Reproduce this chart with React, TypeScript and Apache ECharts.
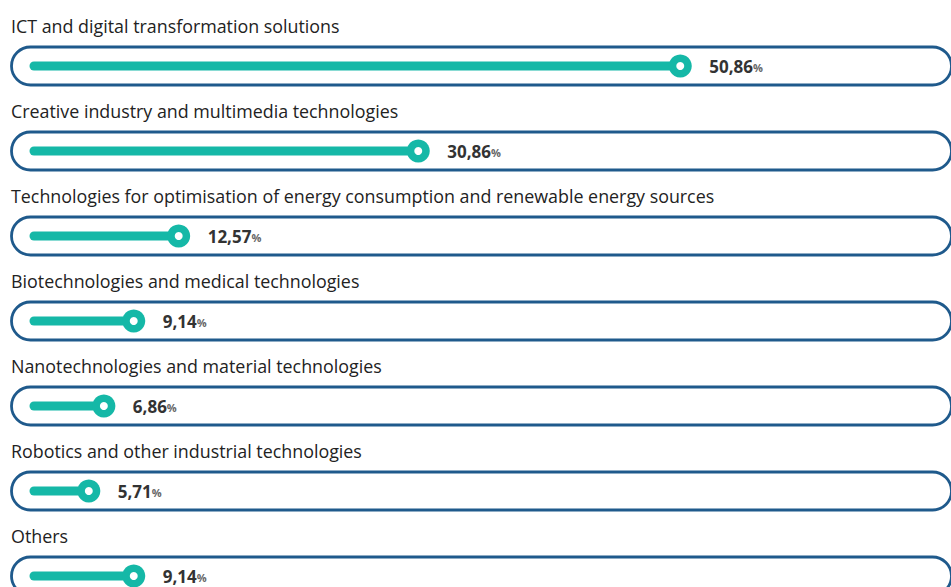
import React, { useEffect, useRef } from "react";
import * as echarts from "echarts";

const categories = [
  "ICT and digital transformation solutions",
  "Creative industry and multimedia technologies",
  "Technologies for optimisation of energy consumption and renewable energy sources",
  "Biotechnologies and medical technologies",
  "Nanotechnologies and material technologies",
  "Robotics and other industrial technologies",
  "Others",
];
const values = [50.86, 30.86, 12.57, 9.14, 6.86, 5.71, 9.14];

const TEAL = "#15b8a7";
const TRACK = "#1f5a8c";
const FONT = "'Open Sans', 'Noto Sans', sans-serif";

export default function App() {
  const ref = useRef<HTMLDivElement>(null);
  useEffect(() => {
    if (!ref.current) return;
    const chart = echarts.init(ref.current, undefined, { renderer: "svg" });
    const data = values.map((v, i) => [v, i]);
    chart.setOption({
      animation: false,
      backgroundColor: "#ffffff",
      grid: { left: 14, width: 917, top: 23.5, height: 595 },
      xAxis: { type: "value", min: 0, max: 70, show: false },
      yAxis: { type: "category", data: categories, inverse: true, show: false },
      series: [
        {
          type: "custom",
          clip: false,
          encode: { x: 0, y: 1 },
          data,
          renderItem: (params: any, api: any) => {
            const v = api.value(0);
            const idx = api.value(1);
            const end = api.coord([v, idx]);
            const zero = api.coord([0, idx]);
            const cy = end[1];
            const label = v.toFixed(2).replace(".", ",");
            return {
              type: "group",
              children: [
                {
                  type: "rect",
                  shape: {
                    x: zero[0] - 2.5,
                    y: cy - 19,
                    width: 951 - zero[0] + 3,
                    height: 38,
                    r: 19,
                  },
                  style: { fill: "#ffffff", stroke: TRACK, lineWidth: 2.8 },
                },
                {
                  type: "line",
                  shape: { x1: zero[0] + 20, y1: cy, x2: end[0], y2: cy },
                  style: { stroke: TEAL, lineWidth: 9, lineCap: "round" },
                },
                {
                  type: "circle",
                  shape: { cx: end[0], cy, r: 11.5 },
                  style: { fill: TEAL },
                },
                {
                  type: "circle",
                  shape: { cx: end[0], cy, r: 4 },
                  style: { fill: "#ffffff" },
                },
                {
                  type: "text",
                  x: end[0] + 29,
                  y: cy,
                  style: {
                    text: `{v|${label}}{p|%}`,
                    verticalAlign: "middle",
                    align: "left",
                    rich: {
                      v: { fontFamily: FONT, fontSize: 17, fontWeight: "bold", fill: "#333333" },
                      p: { fontFamily: FONT, fontSize: 11, fontWeight: "bold", fill: "#666666", padding: [3, 0, 0, 0] },
                    },
                  },
                },
                {
                  type: "text",
                  x: zero[0] - 3,
                  y: cy - 40,
                  style: {
                    text: categories[idx],
                    fontFamily: FONT,
                    fontSize: 17.85,
                    fill: "#222222",
                    verticalAlign: "middle",
                    align: "left",
                  },
                },
              ],
            };
          },
        },
      ],
    });
    return () => chart.dispose();
  }, []);
  return (
    <div style={{ position: "absolute", left: 0, top: 0, width: 951, height: 587, overflow: "hidden" }}>
      <div ref={ref} style={{ width: 951, height: 640 }} />
    </div>
  );
}
